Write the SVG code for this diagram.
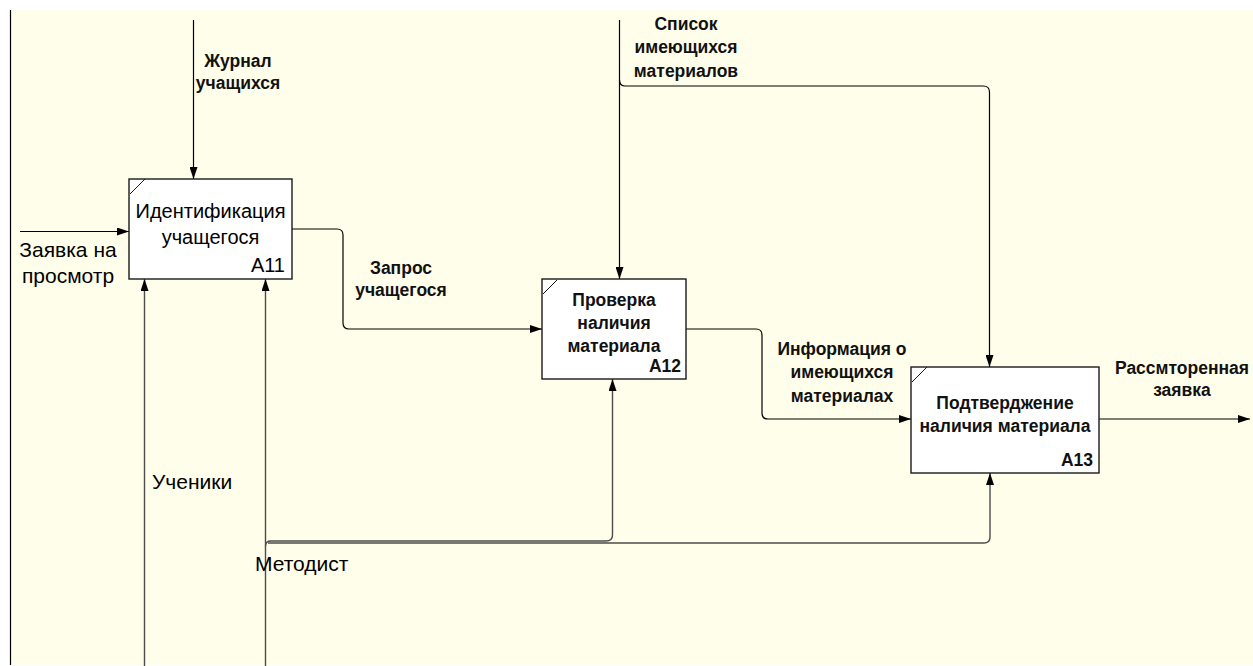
<svg xmlns="http://www.w3.org/2000/svg" width="1253" height="666" viewBox="0 0 1253 666">
  <defs>
    <marker id="arrow" viewBox="0 0 12 8" refX="12" refY="4" markerWidth="12" markerHeight="8" markerUnits="userSpaceOnUse" orient="auto">
      <path d="M0,0 L12,4 L0,8 Z" fill="#000"/>
    </marker>
    <style>
      .box { fill: #ffffff; stroke: #1a1a1a; stroke-width: 1.4; }
      .corner { stroke: #1a1a1a; stroke-width: 1; fill: none; }
      .big { font-family: "Liberation Sans", Arial, sans-serif; font-size: 20px; fill: #000; }
      .big2 { font-family: "Liberation Sans", Arial, sans-serif; font-size: 21px; fill: #000; }
      .lbl { font-family: "Liberation Sans", Arial, sans-serif; font-size: 17.5px; font-weight: bold; fill: #111; }
      .mid { text-anchor: middle; }
      .end { text-anchor: end; }
      .arc { fill: none; stroke: #000; stroke-width: 1.2; }
      .mech { fill: none; stroke: #4d4d4d; stroke-width: 1.4; }
    </style>
  </defs>

  <!-- page background and frame -->
  <rect x="0" y="0" width="1253" height="666" fill="#ffffff"/>
  <rect x="10" y="10" width="1243" height="655" fill="#fffeea"/>
  <line x1="10.5" y1="10" x2="10.5" y2="665" stroke="#000" stroke-width="1.2"/>

  <!-- connectors -->
  <g id="connectors">
    <!-- inputs -->
    <path class="arc" d="M20,231.5 L129,231.5" marker-end="url(#arrow)"/>
    <!-- controls -->
    <path class="arc" d="M193.5,20 L193.5,179" marker-end="url(#arrow)"/>
    <path class="arc" d="M619.5,20 L619.5,279" marker-end="url(#arrow)"/>
    <path class="arc" d="M619.5,80 Q619.5,86 625,86 L983,86 Q989.5,86 989.5,92 L989.5,367" marker-end="url(#arrow)"/>
    <!-- A11 to A12 -->
    <path class="arc" d="M292,229 L337,229 Q343,229 343,235 L343,323 Q343,329 349,329 L542,329" marker-end="url(#arrow)"/>
    <!-- A12 to A13 -->
    <path class="arc" d="M686,329 L756,329 Q762,329 762,335 L762,413 Q762,419 768,419 L911,419" marker-end="url(#arrow)"/>
    <!-- output -->
    <path class="arc" d="M1099,419 L1250,419" marker-end="url(#arrow)"/>
    <!-- mechanisms -->
    <path class="mech" d="M144.5,666 L144.5,279" marker-end="url(#arrow)"/>
    <path class="mech" d="M265.5,666 L265.5,279" marker-end="url(#arrow)"/>
    <path class="mech" d="M265.5,546 Q265.5,541 271,541 L606,541 Q612.5,541 612.5,535 L612.5,379" marker-end="url(#arrow)"/>
    <path class="mech" d="M268,543 L984,543 Q990,543 990,537 L990,473" marker-end="url(#arrow)"/>
  </g>

  <!-- arrow labels -->
  <g id="labels">
    <text class="lbl mid" x="238" y="67">Журнал</text>
    <text class="lbl mid" x="238" y="89">учащихся</text>
    <text class="big2 mid" x="68" y="257">Заявка на</text>
    <text class="big2 mid" x="68" y="283">просмотр</text>
    <text class="lbl mid" x="401" y="274">Запрос</text>
    <text class="lbl mid" x="401" y="296">учащегося</text>
    <text class="lbl mid" x="686" y="30">Список</text>
    <text class="lbl mid" x="686" y="53">имеющихся</text>
    <text class="lbl mid" x="686" y="77">материалов</text>
    <text class="lbl mid" x="842" y="355">Информация о</text>
    <text class="lbl mid" x="842" y="378">имеющихся</text>
    <text class="lbl mid" x="842" y="402">материалах</text>
    <text class="lbl mid" x="1182" y="374">Рассмторенная</text>
    <text class="lbl mid" x="1182" y="396">заявка</text>
    <text class="big2" x="152" y="489">Ученики</text>
    <text class="big2" x="255" y="571">Методист</text>
  </g>

  <!-- activity A11 -->
  <g id="A11">
    <rect class="box" x="129" y="179" width="163" height="100"/>
    <line class="corner" x1="130" y1="194" x2="145" y2="179"/>
    <text class="big mid" x="210.5" y="218">Идентификация</text>
    <text class="big mid" x="210.5" y="244">учащегося</text>
    <text class="big end" x="285" y="272">A11</text>
  </g>

  <!-- activity A12 -->
  <g id="A12">
    <rect class="box" x="542" y="279" width="144" height="100"/>
    <line class="corner" x1="543" y1="294" x2="557" y2="280"/>
    <text class="lbl mid" x="614" y="306">Проверка</text>
    <text class="lbl mid" x="614" y="329">наличия</text>
    <text class="lbl mid" x="614" y="352">материала</text>
    <text class="lbl end" x="681" y="372">A12</text>
  </g>

  <!-- activity A13 -->
  <g id="A13">
    <rect class="box" x="911" y="367" width="188" height="106"/>
    <line class="corner" x1="912" y1="382" x2="927" y2="367"/>
    <text class="lbl mid" x="1005" y="409">Подтверджение</text>
    <text class="lbl mid" x="1005" y="432">наличия материала</text>
    <text class="lbl end" x="1093" y="466">A13</text>
  </g>
</svg>
